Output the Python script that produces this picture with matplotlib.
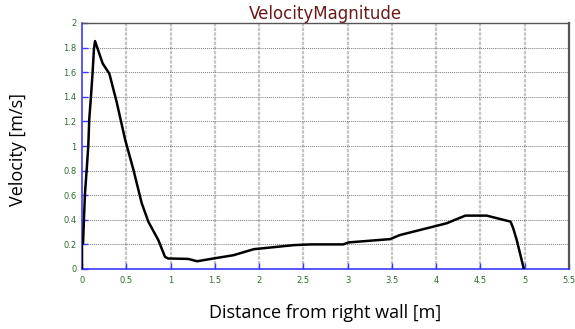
import matplotlib
matplotlib.use("Agg")
import matplotlib.pyplot as plt
import numpy as np

distance = [0.0, 0.0, 0.012, 0.023, 0.034, 0.053, 0.071, 0.082, 0.102, 0.12,
            0.135, 0.147, 0.234, 0.309, 0.392, 0.486, 0.58, 0.674, 0.749, 0.862,
            0.938, 0.975, 1.01, 1.2, 1.3, 1.48, 1.71, 1.94, 2.2, 2.39,
            2.58, 2.95, 3.01, 3.48, 3.59, 4.12, 4.23, 4.33, 4.57, 4.84,
            4.87, 4.91, 4.99]
velocity = [0.0, 0.2, 0.21, 0.426, 0.618, 0.809, 1.0, 1.219, 1.41, 1.6,
            1.79, 1.853, 1.67, 1.588, 1.356, 1.055, 0.809, 0.536, 0.385, 0.235,
            0.098, 0.085, 0.085, 0.082, 0.063, 0.085, 0.112, 0.161, 0.18, 0.194,
            0.2, 0.2, 0.216, 0.243, 0.276, 0.372, 0.405, 0.434, 0.434, 0.385,
            0.331, 0.235, 0.0]

xticks = [0, 0.5, 1, 1.5, 2, 2.5, 3, 3.5, 4, 4.5, 5, 5.5]
xticklabels = ["0", "0.5", "1", "1.5", "2", "2.5", "3", "3.5", "4", "4.5", "5", "5.5"]
yticks = [0, 0.2, 0.4, 0.6, 0.8, 1, 1.2, 1.4, 1.6, 1.8, 2]
yticklabels = ["0", "0.2", "0.4", "0.6", "0.8", "1", "1.2", "1.4", "1.6", "1.8", "2"]

fig = plt.figure(figsize=(5.75, 3.29), dpi=100)
ax = fig.add_axes([82/575, 60/329, (569-82)/575, (269-23)/329])

ax.set_xlim(0, 5.5)
ax.set_ylim(0, 2)

# grid
for xv in xticks[1:-1]:
    ax.axvline(xv, color="#c4c4c4", lw=1.6, ls=(0, (1.5, 0.6)), zorder=1)
for yv in yticks[1:-1]:
    ax.axhline(yv, color="#7a7a7a", lw=0.7, ls=(0, (1, 1)), zorder=1)

ax.plot(distance, velocity, color="black", lw=1.8, zorder=3)

ax.set_xticks(xticks)
ax.set_xticklabels(xticklabels)
ax.set_yticks(yticks)
ax.set_yticklabels(yticklabels)
ax.tick_params(axis="both", direction="in", length=4, width=1, color="#3a3aff",
               labelsize=6, labelcolor="#2e6b2e", pad=4)
ax.tick_params(axis="x", pad=5)

ax.spines["left"].set_color("#3a3aff")
ax.spines["bottom"].set_color("#3a3aff")
ax.spines["top"].set_color("#555555")
ax.spines["right"].set_color("#555555")
ax.spines["right"].set_linewidth(1.6)
ax.spines["left"].set_linewidth(1.2)
ax.spines["bottom"].set_linewidth(1.2)
ax.spines["top"].set_linewidth(1.0)

ax.set_title("VelocityMagnitude", color="#6b1a1a", fontsize=12, pad=2,
             family="DejaVu Sans")

fig.text(325/575, 1 - 313/329, "Distance from right wall [m]", ha="center",
         va="center", fontsize=13, family="Open Sans")
fig.text(18/575, 1 - 150/329, "Velocity [m/s]", ha="center", va="center",
         rotation=90, fontsize=13, family="Open Sans")

fig.savefig("out.png", dpi=100)
